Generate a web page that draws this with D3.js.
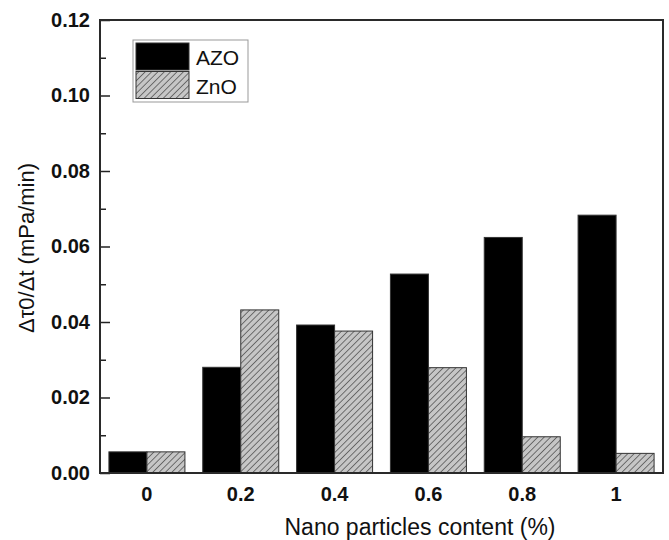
<!DOCTYPE html>
<html>
<head>
<meta charset="utf-8">
<script src="https://cdn.jsdelivr.net/npm/d3@7"></script>
<style>
  body { margin: 0; background: #fff; }
  svg { display: block; font-family: Arial, "Liberation Sans", sans-serif; }
</style>
</head>
<body>
<svg id="chart" width="669" height="540"></svg>
<script>
const categories = ["0", "0.2", "0.4", "0.6", "0.8", "1"]
const seriesNames = ["AZO", "ZnO"]
const azoValues = [0.0056, 0.0280, 0.0392, 0.0527, 0.0624, 0.0683]
const znoValues = [0.0056, 0.0432, 0.0376, 0.0279, 0.0096, 0.0052]
const yMajorTicks = [0, 0.02, 0.04, 0.06, 0.08, 0.10, 0.12]
const yMinorTicks = [0.01, 0.03, 0.05, 0.07, 0.09, 0.11]

const svg = d3.select("#chart")
const plotLeft = 100, plotRight = 663, plotTop = 20, plotBottom = 473

const x0 = d3.scaleBand()
    .domain(categories)
    .range([plotLeft, plotRight])
    .paddingInner(0.19)
    .paddingOuter(0.095)

const x1 = d3.scaleBand()
    .domain(seriesNames)
    .range([0, x0.bandwidth()])

const y = d3.scaleLinear()
    .domain([0, 0.12])
    .range([plotBottom, plotTop])

// hatch pattern for ZnO
const defs = svg.append("defs")
const pat = defs.append("pattern")
    .attr("id", "hatch")
    .attr("patternUnits", "userSpaceOnUse")
    .attr("width", 4.5)
    .attr("height", 4.5)
    .attr("patternTransform", "rotate(45)")
pat.append("rect")
    .attr("width", 4.5).attr("height", 4.5)
    .attr("fill", "#c6c6c6")
pat.append("line")
    .attr("x1", 0).attr("y1", 0)
    .attr("x2", 0).attr("y2", 4.5)
    .attr("stroke", "#505050")
    .attr("stroke-width", 1.5)

const fills = {"AZO": "#000", "ZnO": "url(#hatch)"}

const rows = categories.map((c, i) => ({
    cat: c,
    vals: [{name: "AZO", v: azoValues[i]}, {name: "ZnO", v: znoValues[i]}]
}))

const groups = svg.append("g").selectAll("g")
    .data(rows)
    .join("g")
    .attr("transform", (d) => "translate(" + x0(d.cat) + ",0)")

groups.selectAll("rect")
    .data((d) => d.vals)
    .join("rect")
    .attr("x", (d) => x1(d.name))
    .attr("y", (d) => y(d.v))
    .attr("width", x1.bandwidth())
    .attr("height", (d) => y(0) - y(d.v))
    .attr("fill", (d) => fills[d.name])
    .attr("stroke", "#333")
    .attr("stroke-width", 1)

// y axis major ticks (inward)
const yAxis = svg.append("g")
    .attr("transform", "translate(" + plotLeft + ",0)")
    .call(d3.axisLeft(y).tickValues(yMajorTicks).tickSize(-10).tickPadding(10)
        .tickFormat(d3.format(".2f")))
yAxis.select(".domain").remove()
yAxis.selectAll("line").attr("stroke", "#222").attr("stroke-width", 1.5)
yAxis.selectAll("text")
    .attr("font-size", 20)
    .attr("font-weight", "bold")
    .attr("fill", "#111")
    .attr("font-family", "Arial, 'Liberation Sans', sans-serif")

// minor ticks
const yMinor = svg.append("g")
    .attr("transform", "translate(" + plotLeft + ",0)")
    .call(d3.axisLeft(y).tickValues(yMinorTicks).tickSize(-6).tickFormat(""))
yMinor.select(".domain").remove()
yMinor.selectAll("line").attr("stroke", "#222").attr("stroke-width", 1.5)

// x axis labels
const xAxis = svg.append("g")
    .attr("transform", "translate(0," + plotBottom + ")")
    .call(d3.axisBottom(x0).tickSize(0).tickPadding(14))
xAxis.select(".domain").remove()
xAxis.selectAll("text")
    .attr("font-size", 20)
    .attr("font-weight", "bold")
    .attr("fill", "#111")
    .attr("font-family", "Arial, 'Liberation Sans', sans-serif")

// frame
svg.append("rect")
    .attr("x", plotLeft).attr("y", plotTop)
    .attr("width", plotRight - plotLeft).attr("height", plotBottom - plotTop)
    .attr("fill", "none")
    .attr("stroke", "#2a2a2a")
    .attr("stroke-width", 2)

// axis titles
svg.append("text")
    .attr("x", 420).attr("y", 535)
    .attr("text-anchor", "middle")
    .attr("font-size", 23)
    .attr("fill", "#111")
    .text("Nano particles content (%)")

svg.append("text")
    .attr("transform", "translate(34,248) rotate(-90)")
    .attr("text-anchor", "middle")
    .attr("font-size", 22)
    .attr("fill", "#111")
    .text("Δτ0/Δt (mPa/min)")

// legend
const legend = svg.append("g")
legend.append("rect")
    .attr("x", 133).attr("y", 40)
    .attr("width", 115).attr("height", 62)
    .attr("fill", "#fff")
    .attr("stroke", "#999")
    .attr("stroke-width", 1)

legend.selectAll("rect.sw")
    .data(seriesNames)
    .join("rect")
    .classed("sw", true)
    .attr("x", 136)
    .attr("y", (d, i) => 43 + i * 28.5)
    .attr("width", 53)
    .attr("height", 27)
    .attr("fill", (d) => fills[d])
    .attr("stroke", "#333")

legend.selectAll("text")
    .data(seriesNames)
    .join("text")
    .attr("x", 196)
    .attr("y", (d, i) => 65 + i * 28.5)
    .attr("font-size", 21)
    .attr("fill", "#111")
    .text((d) => d)
</script>
</body>
</html>
